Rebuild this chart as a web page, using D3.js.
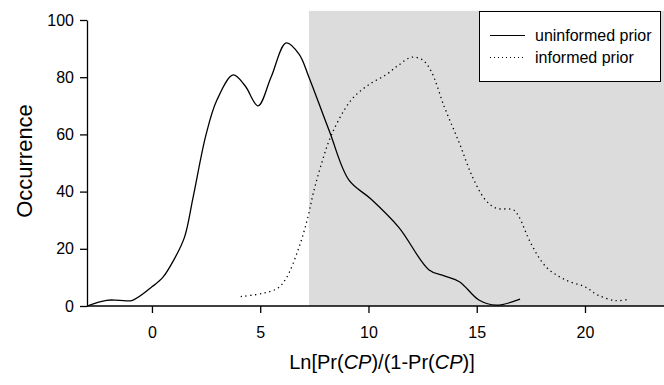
<!DOCTYPE html>
<html>
<head>
<meta charset="utf-8">
<script src="https://cdn.jsdelivr.net/npm/d3@7"></script>
<style>
  body { margin: 0; background: #fff; }
  text { font-family: "Liberation Sans", Arial, sans-serif; fill: #000; }
</style>
</head>
<body>
<svg id="chart" width="664" height="385"></svg>
<script>
// uninformed prior (solid line)
const uninfX = [-3, -2.1, -1.5, -0.9, 0, 0.5, 1, 1.5, 1.9, 2.5, 3.0, 3.75, 4.3, 4.9, 5.5, 6.2, 6.8, 7.25, 8.2, 9.1, 10.1, 11.4, 12.8, 13.5, 14.2, 15.1, 15.9, 17];
const uninfY = [0, 2, 2, 2, 6.7, 10, 16, 24, 38, 60, 72, 80.8, 77, 70, 80, 92, 88, 80, 61, 44, 37.5, 27.5, 12.6, 10.5, 8.5, 2.1, 0.3, 2.4];

// informed prior (dotted line)
const infX = [4.1, 5.1, 5.8, 6.2, 6.8, 7.2, 7.45, 7.8, 8.3, 9.2, 10.0, 10.8, 11.4, 12.0, 12.5, 12.9, 13.5, 14.2, 14.8, 15.4, 15.9, 16.7, 16.95, 17.5, 18.2, 19.1, 20.0, 20.6, 21.4, 22];
const infY = [3.3, 4.4, 6.2, 9.7, 20.7, 31, 39.4, 49, 60, 72, 77.3, 80.8, 84.3, 87, 86, 82, 69.7, 56.9, 45.2, 37.1, 34.2, 33.6, 31.2, 21.9, 13.7, 9.1, 6.7, 3.8, 1.9, 2.3];

const shadeFrom = 7.25;
const xTicks = [0, 5, 10, 15, 20];
const yTicks = [0, 20, 40, 60, 80, 100];
const legendLabels = ["uninformed prior", "informed prior"];

const svg = d3.select("#chart");

const x = d3.scaleLinear().domain([-3, 24]).range([87, 671.6]);
const y = d3.scaleLinear().domain([0, 100]).range([306, 20]);

// shaded region
svg.append("rect")
  .attr("x", x(shadeFrom))
  .attr("y", y(103.2))
  .attr("width", 664 - x(shadeFrom))
  .attr("height", y(0) - y(103.2))
  .attr("fill", "#dcdcdc");

const line = d3.line()
  .x(d => x(d[0]))
  .y(d => y(d[1]))
  .curve(d3.curveCatmullRom.alpha(0.5));

svg.append("path")
  .datum(d3.zip(uninfX, uninfY))
  .attr("d", line)
  .attr("fill", "none")
  .attr("stroke", "#000")
  .attr("stroke-width", 1.3);

svg.append("path")
  .datum(d3.zip(infX, infY))
  .attr("d", line)
  .attr("fill", "none")
  .attr("stroke", "#000")
  .attr("stroke-width", 1.3)
  .attr("stroke-dasharray", "1.3,3.5");

// axes
const xAxis = svg.append("g")
  .attr("transform", "translate(0," + y(0) + ")")
  .call(d3.axisBottom(x).tickValues(xTicks).tickSize(7).tickPadding(14).tickSizeOuter(0));

const yAxis = svg.append("g")
  .attr("transform", "translate(" + x(-3) + ",0)")
  .call(d3.axisLeft(y).tickValues(yTicks).tickSize(7).tickPadding(6).tickSizeOuter(0));

[xAxis, yAxis].forEach(g => {
  g.select(".domain").attr("stroke", "#000").attr("stroke-width", 1.3);
  g.selectAll(".tick line").attr("stroke", "#000").attr("stroke-width", 1.3);
  g.selectAll(".tick text").attr("font-size", 16).attr("font-family", "Liberation Sans, Arial, sans-serif").attr("fill", "#000");
});
xAxis.select(".domain").attr("d", "M87,0H664");

// axis titles
svg.append("text")
  .attr("transform", "translate(32,161) rotate(-90)")
  .attr("text-anchor", "middle")
  .attr("font-size", 22)
  .text("Occurrence");

const xt = svg.append("text")
  .attr("x", 382)
  .attr("y", 369)
  .attr("text-anchor", "middle")
  .attr("font-size", 20);
xt.append("tspan").text("Ln[Pr(");
xt.append("tspan").attr("font-style", "italic").text("CP");
xt.append("tspan").text(")/(1-Pr(");
xt.append("tspan").attr("font-style", "italic").text("CP");
xt.append("tspan").text(")]");

// legend
const lg = svg.append("g");
lg.append("rect")
  .attr("x", 479.5).attr("y", 11.5)
  .attr("width", 181).attr("height", 70)
  .attr("fill", "#fff").attr("stroke", "#000").attr("stroke-width", 1);

legendLabels.forEach((lab, i) => {
  const yy = 35.5 + i * 22;
  lg.append("line")
    .attr("x1", 490).attr("x2", 525)
    .attr("y1", yy).attr("y2", yy)
    .attr("stroke", "#000").attr("stroke-width", 1.2)
    .attr("stroke-dasharray", i === 1 ? "1,3" : null);
  lg.append("text")
    .attr("x", 535).attr("y", yy + 5.5)
    .attr("font-size", 16)
    .text(lab);
});
</script>
</body>
</html>
